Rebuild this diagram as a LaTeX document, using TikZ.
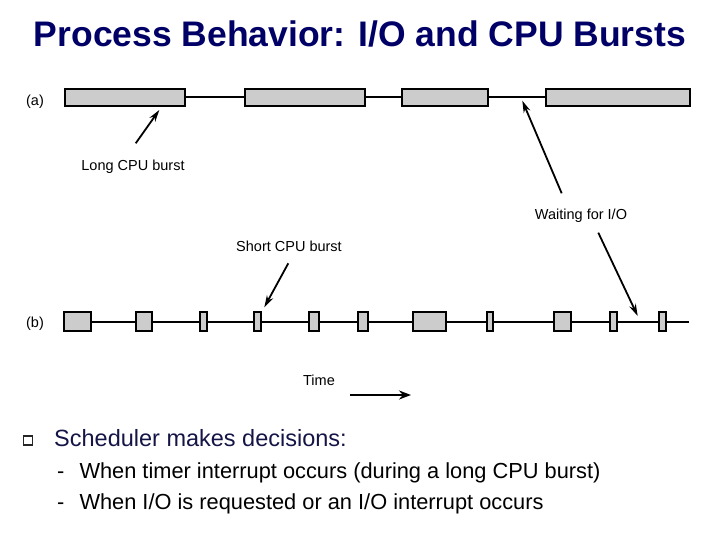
\documentclass[tikz,border=0pt]{standalone}
\usepackage{fontspec}
\setmainfont{Liberation Sans}
\usetikzlibrary{arrows.meta}
\definecolor{titleblue}{RGB}{0,0,102}
\definecolor{textnavy}{RGB}{20,20,70}
\definecolor{burstgray}{RGB}{204,204,204}
\tikzset{
  burst/.style={draw=black, fill=burstgray, line width=2pt, inner sep=0pt, outer sep=0pt, anchor=west},
  bursta/.style={burst, minimum height=16.5pt},
  burstb/.style={burst, minimum height=19pt},
  tl/.style={line width=1.9pt},
  lbl/.style={font=\fontsize{14.5}{16}\selectfont, inner sep=0pt},
  pointer/.style={line width=1.8pt, -{Stealth[length=12pt,width=7pt]}},
}
\begin{document}
\begin{tikzpicture}[x=1pt,y=-1pt]
\useasboundingbox (0,0) rectangle (720,540);
% title
\node[anchor=base, text=titleblue, font=\fontsize{35.5}{40}\selectfont\bfseries, inner sep=0pt] (title) at (360,47) {Process Behavior: I/O and CPU Bursts};
% row labels
\node[lbl] (la) at (35,102) {(a)};
\node[lbl] (lb) at (35,324) {(b)};
% row (a)
\node[bursta, minimum width=120pt] (a1) at (65,97.3) {};
\node[bursta, minimum width=120pt] (a2) at (245,97.3) {};
\node[bursta, minimum width=86pt] (a3) at (401.7,97.3) {};
\node[bursta, minimum width=144pt] (a4) at (546,97.3) {};
\draw[tl] (a1.east) -- (a2.west);
\draw[tl] (a2.east) -- (a3.west);
\draw[tl] (a3.east) -- (a4.west);
% row (b)
\node[burstb, minimum width=26.7pt] (b1) at (64,321.7) {};
\node[burstb, minimum width=16.6pt] (b2) at (135.7,321.7) {};
\node[burstb, minimum width=6.7pt] (b3) at (200,321.7) {};
\node[burstb, minimum width=6.7pt] (b4) at (254.3,321.7) {};
\node[burstb, minimum width=9.7pt] (b5) at (309.3,321.7) {};
\node[burstb, minimum width=10pt] (b6) at (358.3,321.7) {};
\node[burstb, minimum width=33pt] (b7) at (412.7,321.7) {};
\node[burstb, minimum width=6.6pt] (b8) at (486.7,321.7) {};
\node[burstb, minimum width=17pt] (b9) at (554.3,321.7) {};
\node[burstb, minimum width=7pt] (b10) at (610.3,321.7) {};
\node[burstb, minimum width=7.3pt] (b11) at (658.7,321.7) {};
\coordinate (bend) at (689,321.7);
\foreach \p/\q in {b1/b2,b2/b3,b3/b4,b4/b5,b5/b6,b6/b7,b7/b8,b8/b9,b9/b10,b10/b11}
  \draw[tl] (\p.east) -- (\q.west);
\draw[tl] (b11.east) -- (bend);
% labels and pointers
\node[lbl] (long) at (133,166.5) {Long CPU burst};
\coordinate (longtail) at (135.7,143.3);
\coordinate (longtip) at (159.3,110);
\draw[pointer] (longtail) -- (longtip);
\node[lbl] (wait) at (581,216) {Waiting for I/O};
\coordinate (waittaila) at (561.7,193.3);
\coordinate (waittipa) at (522.3,100.7);
\coordinate (waittailb) at (598.3,232.7);
\coordinate (waittipb) at (637.7,316);
\draw[pointer] (waittaila) -- (waittipa);
\draw[pointer] (waittailb) -- (waittipb);
\node[lbl] (short) at (289,246.5) {Short CPU burst};
\coordinate (shorttail) at (288.3,263.3);
\coordinate (shorttip) at (264.3,307.3);
\draw[pointer] (shorttail) -- (shorttip);
\node[lbl] (time) at (319,380) {Time};
\coordinate (timestart) at (350,395);
\coordinate (timeend) at (411,395);
\draw[line width=2.6pt, -{Stealth[length=12pt,width=9pt]}] (timestart) -- (timeend);
% bullets
\node[draw=black!85, fill=white, line width=1.3pt, minimum size=9pt, inner sep=0pt] (sq) at (28,440.5) {};
\node[anchor=base west, text=textnavy, font=\fontsize{23.5}{26}\selectfont, inner sep=0pt] (b0) at (54,446.7) {Scheduler makes decisions:};
\node[anchor=base west, font=\fontsize{21.8}{24}\selectfont, inner sep=0pt] (d1) at (57,478.3) {-};
\node[anchor=base west, font=\fontsize{21.8}{24}\selectfont, inner sep=0pt] (s1) at (79.3,478.3) {When timer interrupt occurs (during a long CPU burst)};
\node[anchor=base west, font=\fontsize{21.8}{24}\selectfont, inner sep=0pt] (d2) at (57,509) {-};
\node[anchor=base west, font=\fontsize{21.8}{24}\selectfont, inner sep=0pt] (s2) at (79.3,509) {When I/O is requested or an I/O interrupt occurs};
\end{tikzpicture}
\end{document}
